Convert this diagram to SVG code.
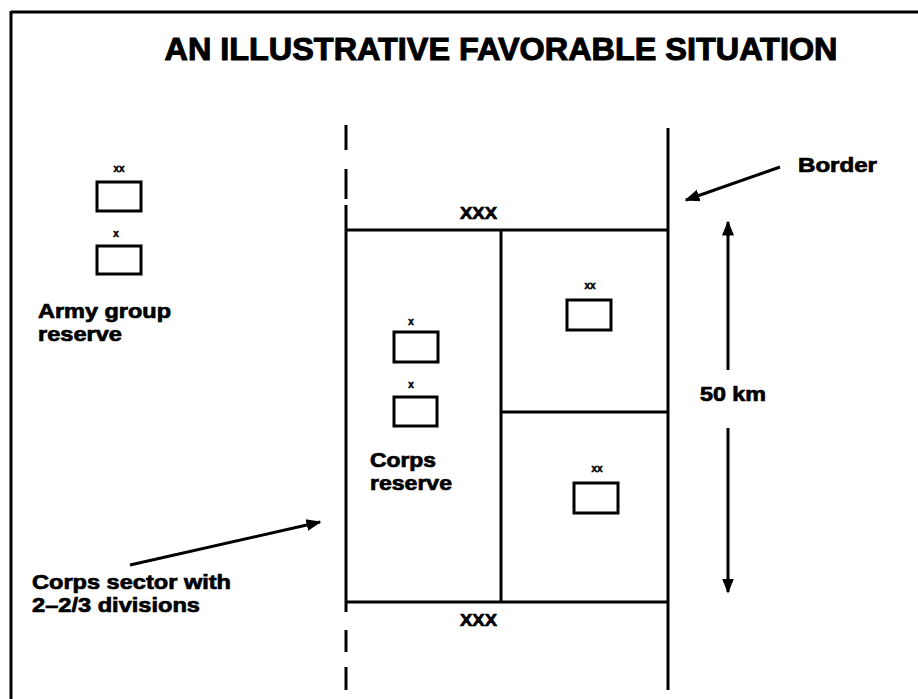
<svg xmlns="http://www.w3.org/2000/svg" width="918" height="699" viewBox="0 0 918 699">
<defs>
<style>
.t{font-family:"Liberation Sans",Arial,sans-serif;font-weight:bold;fill:#000;stroke:#000;stroke-width:0.7}
.lbl{font-size:20px}
.sm{font-size:10px;stroke-width:0.5}
.xxx{font-size:16px}
.ln{stroke:#000;fill:none;stroke-width:3}
.box{stroke:#000;fill:none;stroke-width:3}
</style>
<marker id="ah" viewBox="0 0 10 10" refX="9" refY="5" markerWidth="5" markerHeight="5" orient="auto-start-reverse" markerUnits="strokeWidth">
<path d="M0,1 L10,5 L0,9 Z" fill="#000"/>
</marker>
</defs>
<rect width="918" height="699" fill="#fff"/>
<g id="frame">
<line class="ln" x1="11" y1="12" x2="918" y2="12"/>
<line class="ln" x1="11" y1="11" x2="11" y2="699"/>
</g>
<text class="t" x="501" y="60" font-size="31" style="stroke-width:1" text-anchor="middle" textLength="673" lengthAdjust="spacingAndGlyphs">AN ILLUSTRATIVE FAVORABLE SITUATION</text>
<g id="sector">
<line class="ln" x1="346" y1="125" x2="346" y2="150"/>
<line class="ln" x1="346" y1="169" x2="346" y2="199"/>
<line class="ln" x1="346" y1="205" x2="346" y2="612"/>
<line class="ln" x1="346" y1="630" x2="346" y2="652"/>
<line class="ln" x1="346" y1="667" x2="346" y2="690"/>
<line class="ln" x1="346" y1="230" x2="668" y2="230"/>
<line class="ln" x1="346" y1="602" x2="668" y2="602"/>
<line class="ln" x1="501" y1="230" x2="501" y2="602"/>
<line class="ln" x1="501" y1="412" x2="668" y2="412"/>
<line class="ln" x1="668" y1="128" x2="668" y2="690" stroke-width="5"/>
<text class="t xxx" x="460" y="219" textLength="37" lengthAdjust="spacingAndGlyphs">XXX</text>
<text class="t xxx" x="460" y="626" textLength="37" lengthAdjust="spacingAndGlyphs">XXX</text>
</g>
<g id="army-group-reserve">
<text class="t sm" x="119" y="172" text-anchor="middle">xx</text>
<rect class="box" x="97" y="182" width="44" height="29"/>
<text class="t sm" x="116" y="237" text-anchor="middle">x</text>
<rect class="box" x="97" y="246" width="44" height="28"/>
<text class="t lbl" x="38" y="318" textLength="133" lengthAdjust="spacingAndGlyphs">Army group</text>
<text class="t lbl" x="38" y="341" textLength="84" lengthAdjust="spacingAndGlyphs">reserve</text>
</g>
<g id="corps-reserve">
<text class="t sm" x="411" y="325" text-anchor="middle">x</text>
<rect class="box" x="394" y="332" width="44" height="30"/>
<text class="t sm" x="411" y="388" text-anchor="middle">x</text>
<rect class="box" x="394" y="397" width="43" height="29"/>
<text class="t lbl" x="370" y="467" textLength="66" lengthAdjust="spacingAndGlyphs">Corps</text>
<text class="t lbl" x="370" y="490" textLength="82" lengthAdjust="spacingAndGlyphs">reserve</text>
</g>
<g id="division-top">
<text class="t sm" x="590" y="289" text-anchor="middle">xx</text>
<rect class="box" x="567" y="300" width="44" height="30"/>
</g>
<g id="division-bottom">
<text class="t sm" x="597" y="472" text-anchor="middle">xx</text>
<rect class="box" x="574" y="483" width="44" height="30"/>
</g>
<g id="labels">
<text class="t lbl" x="798" y="172" textLength="79" lengthAdjust="spacingAndGlyphs">Border</text>
<text class="t lbl" x="700" y="401" textLength="66" lengthAdjust="spacingAndGlyphs">50 km</text>
<text class="t lbl" x="32" y="589" textLength="199" lengthAdjust="spacingAndGlyphs">Corps sector with</text>
<text class="t lbl" x="32" y="612" textLength="168" lengthAdjust="spacingAndGlyphs">2–2/3 divisions</text>
</g>
<g id="connectors">
<line class="ln" x1="780" y1="167" x2="686" y2="200" marker-end="url(#ah)"/>
<line class="ln" x1="130" y1="565" x2="320" y2="522" marker-end="url(#ah)"/>
<line class="ln" x1="728" y1="370" x2="728" y2="222" marker-end="url(#ah)"/>
<line class="ln" x1="728" y1="428" x2="728" y2="592" marker-end="url(#ah)"/>
</g>
</svg>
